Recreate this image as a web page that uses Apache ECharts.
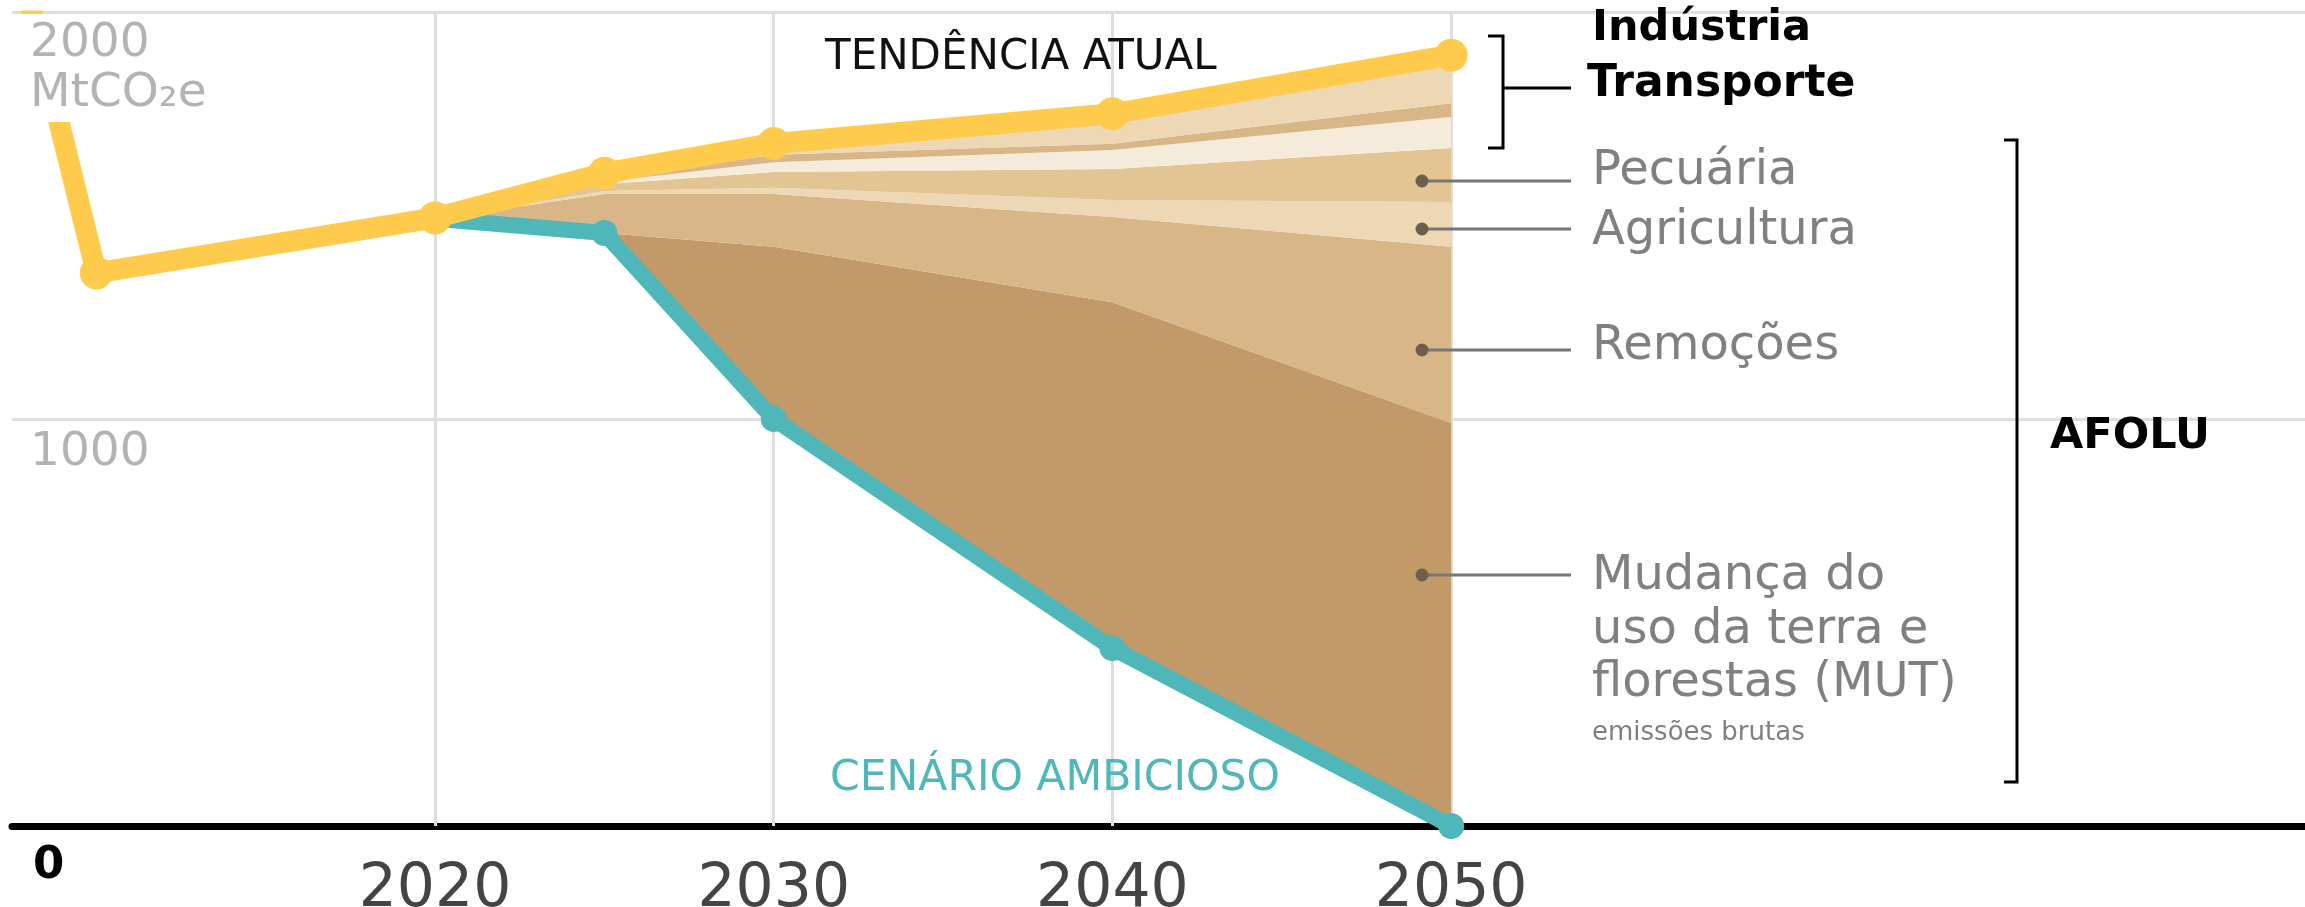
<!DOCTYPE html>
<html>
<head>
<meta charset="utf-8">
<script src="https://cdn.jsdelivr.net/npm/echarts@6/dist/echarts.min.js"></script>
<style>
  html, body { margin: 0; padding: 0; background: #fff; }
  #chart { width: 2305px; height: 907px; }
</style>
</head>
<body>
<div id="chart"></div>
<script>
// anos dos cenários
const years = [2020, 2025, 2030, 2040, 2050]
const trendYears = [2005, 2010, 2020, 2025, 2030, 2040, 2050]
const yearTicks = [2020, 2030, 2040, 2050]
const valueTicks = [1000, 2000]

// tendência atual (linha amarela) e cenário ambicioso (linha verde)
const trendValues = [3040, 1359, 1494, 1604, 1677, 1750, 1894]
const ambitiousValues = [1492, 1457, 1000, 437, 0]

// faixas empilhadas acima do cenário ambicioso
const mutValues = [0, 0, 423, 850, 990]
const remocoesValues = [0, 96, 130, 209, 433]
const agriculturaValues = [0, 7, 15, 42, 110]
const pecuariaValues = [0, 17, 39, 76, 133]
const transporteValues = [0, 6, 24, 47, 76]
const energiaValues = [0, 8, 18, 15, 34]
const industriaValues = [2, 13, 28, 74, 118]

const FONT = '"DejaVu Sans", "Noto Sans", sans-serif'
const pair = (xs, ys) => xs.map((x, i) => [x, ys[i]])
// valor primeiro: o empilhamento do echarts usa a primeira dimensão numérica
const stackPair = (xs, ys) => xs.map((x, i) => [ys[i], x])

const chart = echarts.init(document.getElementById('chart'), null, { renderer: 'canvas' })

const bands = [
  { name: 'Mudança do uso da terra e florestas', data: mutValues, color: '#c29a6a' },
  { name: 'Remoções', data: remocoesValues, color: '#d9b687' },
  { name: 'Agricultura', data: agriculturaValues, color: '#edd7b4' },
  { name: 'Pecuária', data: pecuariaValues, color: '#e3c594' },
  { name: 'Transporte', data: transporteValues, color: '#f5ebdb' },
  { name: 'Energia', data: energiaValues, color: '#d9b687' },
  { name: 'Indústria', data: industriaValues, color: '#edd7b4' }
]

const text = (str, x, y, size, color, bold) => ({
  type: 'text',
  x: x,
  y: y,
  z: 100,
  silent: true,
  style: {
    text: str,
    fill: color,
    font: (bold ? 'bold ' : '') + size + 'px ' + FONT,
    align: 'left',
    verticalAlign: 'middle'
  }
})
const line = (points, color, width) => ({
  type: 'polyline',
  z: 100,
  silent: true,
  shape: { points: points },
  style: { stroke: color, lineWidth: width, fill: null }
})
const dot = (x, y) => ({
  type: 'circle',
  z: 101,
  silent: true,
  shape: { cx: x, cy: y, r: 6.5 },
  style: { fill: '#6b5f4d' }
})
const whiteBox = (x, y, w, h) => ({
  type: 'rect', z: 99, silent: true,
  shape: { x: x, y: y, width: w, height: h },
  style: { fill: '#fff' }
})

// rótulos das faixas (y do traço, linhas de texto)
const leaders = [
  { y: 181, lines: [['Pecuária', 172]] },
  { y: 229, lines: [['Agricultura', 232]] },
  { y: 350, lines: [['Remoções', 347]] },
  { y: 575, lines: [['Mudança do', 577], ['uso da terra e', 631], ['florestas (MUT)', 684]] }
]

const graphics = [
  // rótulos do eixo y
  whiteBox(0, 0, 120, 10.5),
  whiteBox(14, 14, 205, 108),
  text('2000', 30, 44, 47, '#b3b3b3'),
  text('MtCO₂e', 30, 94, 47, '#b3b3b3'),
  text('1000', 30, 453, 47, '#b3b3b3'),
  text('0', 33, 866, 45, '#000', true),
  // títulos das linhas
  text('TENDÊNCIA ATUAL', 825, 58, 42, '#111'),
  text('CENÁRIO AMBICIOSO', 830, 779, 42.5, '#4fb6b9'),
  // colchete Indústria / Transporte
  line([[1488, 36], [1503, 36], [1503, 148], [1488, 148]], '#000', 3),
  line([[1503, 88], [1571, 88]], '#000', 3),
  text('Indústria', 1592, 29, 43, '#000', true),
  text('Transporte', 1587, 85, 44, '#000', true),
  // colchete AFOLU
  line([[2004, 140], [2017, 140], [2017, 782], [2004, 782]], '#000', 3),
  text('AFOLU', 2050, 437, 43, '#000', true),
  text('emissões brutas', 1592, 733, 26, '#808080')
]
leaders.forEach(l => {
  graphics.push(line([[1422, l.y], [1571, l.y]], '#777', 3))
  graphics.push(dot(1422, l.y))
  l.lines.forEach(s => graphics.push(text(s[0], 1592, s[1], 48, '#808080')))
})

chart.setOption({
  animation: false,
  grid: { left: 12, right: 0, top: 10, bottom: 81, containLabel: false, outerBoundsMode: 'none' },
  xAxis: {
    type: 'value',
    min: 2007.51,
    max: 2075.21,
    axisLine: { show: true, lineStyle: { color: '#000', width: 7 } },
    axisTick: { show: false },
    splitLine: { show: false },
    axisLabel: {
      customValues: yearTicks,
      formatter: v => String(v),
      color: '#444',
      fontSize: 60,
      fontFamily: FONT,
      margin: 34
    }
  },
  yAxis: {
    type: 'value',
    min: 0,
    max: 2004.9,
    show: false
  },
  series: [
    {
      // linhas de grade
      name: 'grade',
      type: 'line',
      data: [],
      z: 1,
      silent: true,
      markLine: {
        silent: true,
        z: 1,
        symbol: 'none',
        label: { show: false },
        lineStyle: { color: '#dedede', width: 3, type: 'solid' },
        data: valueTicks.map(v => ({ yAxis: v })).concat(
          yearTicks.map(y => [{ coord: [y, valueTicks[valueTicks.length - 1]] }, { coord: [y, 0] }])
        )
      }
    },
    {
      name: 'base',
      type: 'line',
      stack: 'total',
      encode: { x: 1, y: 0 },
      data: stackPair(years, ambitiousValues),
      symbol: 'none',
      lineStyle: { width: 0, opacity: 0 },
      z: 2,
      silent: true
    }
  ].concat(bands.map(b => ({
    name: b.name,
    type: 'line',
    stack: 'total',
    encode: { x: 1, y: 0 },
    data: stackPair(years, b.data),
    symbol: 'none',
    lineStyle: { width: 0, opacity: 0 },
    areaStyle: { color: b.color, opacity: 1 },
    z: 2,
    silent: true
  }))).concat([
    {
      name: 'Cenário ambicioso',
      type: 'line',
      data: pair(years, ambitiousValues),
      symbol: 'circle',
      symbolSize: 26,
      itemStyle: { color: '#4fb6b9' },
      lineStyle: { color: '#4fb6b9', width: 16 },
      z: 3,
      silent: true
    },
    {
      name: 'Tendência atual',
      type: 'line',
      data: pair(trendYears, trendValues),
      symbol: 'circle',
      symbolSize: 33,
      showAllSymbol: true,
      itemStyle: { color: '#ffcb4c' },
      lineStyle: { color: '#ffcb4c', width: 21 },
      clip: true,
      z: 4,
      silent: true
    }
  ]),
  graphic: graphics
})
</script>
</body>
</html>
